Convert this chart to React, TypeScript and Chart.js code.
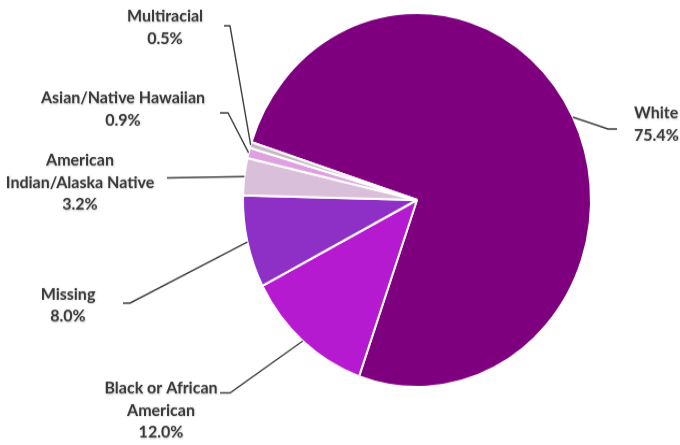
import React, { useEffect, useRef } from "react";
import { Chart, registerables } from "chart.js";

Chart.register(...registerables);

const categories = [
  "White",
  "Black or African American",
  "Missing",
  "American Indian/Alaska Native",
  "Asian/Native Hawaiian",
  "Multiracial",
];
const values = [75.4, 12.0, 8.0, 3.2, 0.9, 0.5];
const labelLines = [
  ["White", "75.4%"],
  ["Black or African", "American", "12.0%"],
  ["Missing", "8.0%"],
  ["American", "Indian/Alaska Native", "3.2%"],
  ["Asian/Native Hawaiian", "0.9%"],
  ["Multiracial", "0.5%"],
];
const colors = ["#7F007F", "#B51AD0", "#8E2FC6", "#D9BFD9", "#DFA0DF", "#C4B4C4"];

// The original picture is stretched vertically; draw on a shorter canvas and scale it.
const STRETCH = 445 / 414;

// Label layout (canvas coords): text x, first line y, elbow point, leader end point, alignment
const labelLayout = [
  { tx: 634, ty: 105, align: "left", elbow: [608, 120], end: [617, 120] },
  { tx: 161, ty: 361, align: "center", elbow: [230, 365.5], end: [220, 365.5] },
  { tx: 68, ty: 273.5, align: "center", elbow: [130, 282], end: [123, 282] },
  { tx: 80, ty: 149, align: "center", elbow: null, end: [167, 165.5] },
  { tx: 123, ty: 91, align: "center", elbow: [228, 105], end: [220, 105] },
  { tx: 165, ty: 15, align: "center", elbow: [230, 24], end: [224, 24] },
];

const labelPlugin = {
  id: "pieLabels",
  afterDraw(chart: any) {
    const ctx = chart.ctx;
    const meta = chart.getDatasetMeta(0);
    ctx.save();
    meta.data.forEach((arc: any, i: number) => {
      const lay = labelLayout[i];
      const mid = (arc.startAngle + arc.endAngle) / 2;
      const ax = arc.x + Math.cos(mid) * arc.outerRadius;
      const ay = arc.y + Math.sin(mid) * arc.outerRadius;
      ctx.strokeStyle = "#404040";
      ctx.lineWidth = 1.4;
      ctx.beginPath();
      ctx.moveTo(ax, ay);
      if (lay.elbow) ctx.lineTo(lay.elbow[0], lay.elbow[1]);
      ctx.lineTo(lay.end[0], lay.end[1]);
      ctx.stroke();

      ctx.font = "bold 16px Lato, 'Open Sans', sans-serif";
      ctx.fillStyle = "#3A3A3A";
      ctx.textAlign = lay.align;
      ctx.textBaseline = "middle";
      ctx.shadowColor = "rgba(0,0,0,0.25)";
      ctx.shadowBlur = 2;
      ctx.shadowOffsetX = 0.5;
      ctx.shadowOffsetY = 0.5;
      labelLines[i].forEach((t, k) => {
        ctx.fillText(t, lay.tx, lay.ty + k * 20.5);
      });
      ctx.shadowColor = "transparent";
    });
    ctx.restore();
  },
};

export default function App() {
  const ref = useRef<HTMLCanvasElement>(null);
  useEffect(() => {
    if (!ref.current) return;
    const chart = new Chart(ref.current, {
      type: "pie",
      data: {
        labels: categories,
        datasets: [
          {
            data: values,
            backgroundColor: colors,
            borderColor: "#FFFFFF",
            borderWidth: 2,
          },
        ],
      },
      options: {
        animation: false,
        responsive: false,
        rotation: -72,
        layout: { padding: { left: 242, right: 88, top: 11, bottom: 53 } },
        plugins: {
          legend: { display: false },
          tooltip: { enabled: false },
        },
      },
      plugins: [labelPlugin],
    });
    return () => chart.destroy();
  }, []);
  return (
    <div style={{ position: "fixed", left: 0, top: 0, width: 680, height: 445, background: "#fff", overflow: "hidden" }}>
      <div style={{ width: 680, height: 414, transform: `scaleY(${STRETCH})`, transformOrigin: "0 0" }}>
        <canvas ref={ref} width={680} height={414} style={{ display: "block" }} />
      </div>
    </div>
  );
}
